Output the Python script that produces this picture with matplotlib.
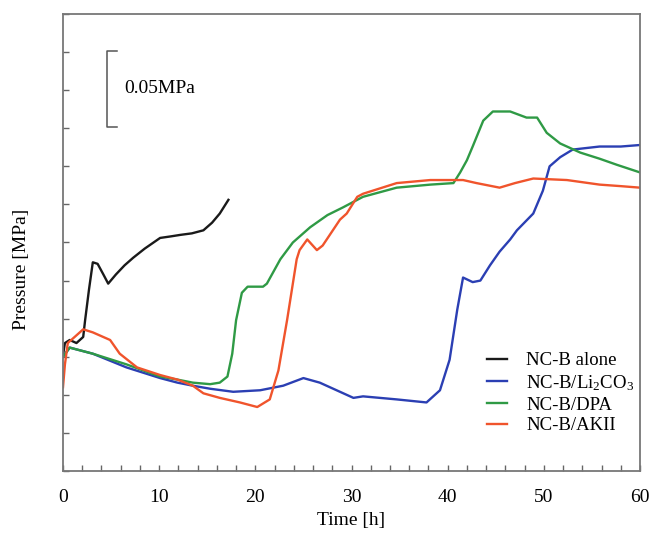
import matplotlib
matplotlib.use("Agg")
import matplotlib.pyplot as plt
from matplotlib.ticker import MultipleLocator, FixedLocator, NullFormatter

plt.rcParams['font.family'] = ['Liberation Serif', 'DejaVu Serif']
plt.rcParams['mathtext.fontset'] = 'custom'
plt.rcParams['mathtext.rm'] = 'Liberation Serif'
plt.rcParams['mathtext.it'] = 'Liberation Serif:italic'

# ---- data (time in h, pressure in MPa, arbitrary offset) ----
t_alone = [0, 0.2, 0.7, 1.4, 2.1, 2.3, 2.7, 3.1, 3.6, 4.2, 4.7, 5.5, 6.4, 7.3, 8.5,
           10.1, 11.2, 12.2, 13.4, 14.6, 15.5, 16.3, 17.2]
p_alone = [0.076, 0.084, 0.086, 0.084, 0.088, 0.099, 0.119, 0.137, 0.136, 0.129, 0.123,
           0.129, 0.135, 0.140, 0.146, 0.153, 0.154, 0.155, 0.156, 0.158, 0.163, 0.169, 0.178]

t_li = [0, 0.7, 3.1, 6.6, 10.1, 11.9, 13.5, 15.3, 17.7, 20.5, 22.9, 25, 26.7, 28.8, 30.2,
        31.2, 34.7, 37.8, 39.2, 40.2, 41, 41.6, 42.6, 43.4, 44.4, 45.4, 46.5, 47.2, 48.9,
        49.9, 50.6, 51.7, 53, 55.8, 58, 60]
p_li = [0.075, 0.081, 0.077, 0.068, 0.061, 0.058, 0.056, 0.054, 0.052, 0.053, 0.056, 0.061,
        0.058, 0.052, 0.048, 0.049, 0.047, 0.045, 0.053, 0.073, 0.106, 0.127, 0.124, 0.125,
        0.135, 0.144, 0.152, 0.158, 0.169, 0.184, 0.200, 0.206, 0.211, 0.213, 0.213, 0.214]

t_dpa = [0, 0.7, 3.1, 6.6, 10.1, 11.9, 13.5, 15.3, 16.3, 17.1, 17.6, 18.0, 18.6, 19.2, 20.8,
         21.2, 22.6, 23.9, 25.7, 27.5, 29.1, 31.2, 34.7, 38.2, 40.6, 41.3, 42, 42.6, 43.7,
         44.7, 46.5, 48.2, 49.3, 50.3, 51.7, 53.8, 55.8, 57.6, 60]
p_dpa = [0.075, 0.081, 0.077, 0.070, 0.062, 0.060, 0.058, 0.057, 0.058, 0.062, 0.077, 0.099,
         0.117, 0.121, 0.121, 0.123, 0.139, 0.150, 0.160, 0.168, 0.173, 0.180, 0.186, 0.188,
         0.189, 0.196, 0.204, 0.213, 0.230, 0.236, 0.236, 0.232, 0.232, 0.222, 0.215, 0.209,
         0.205, 0.201, 0.196]

t_akii = [0, 0.2, 0.5, 2.1, 3.1, 4.9, 5.9, 7.7, 10.1, 11.9, 13.5, 14.6, 16.3, 18.4, 20.2,
          21.5, 22.4, 23.3, 24.3, 24.6, 25.4, 26.4, 27, 28.8, 29.5, 30.6, 31.2, 34.7, 38.2,
          41.6, 43, 45.4, 47, 48.9, 52.4, 55.8, 58, 60]
p_akii = [0.055, 0.070, 0.084, 0.093, 0.091, 0.086, 0.077, 0.068, 0.063, 0.060, 0.056, 0.051,
          0.048, 0.045, 0.042, 0.047, 0.066, 0.099, 0.139, 0.145, 0.152, 0.145, 0.148, 0.165,
          0.169, 0.180, 0.182, 0.189, 0.191, 0.191, 0.189, 0.186, 0.189, 0.192, 0.191, 0.188,
          0.187, 0.186]

labels = ['NC-B alone', 'NC-B/Li$_2$CO$_3$', 'NC-B/DPA', 'NC-B/AKII']
colors = ['#1a1a1a', '#2b3fb3', '#2f9a45', '#f0542c']
x_ticks = [0, 10, 20, 30, 40, 50, 60]
scale_len = 0.05

fig = plt.figure(figsize=(6.51, 5.37), dpi=100)
ax = fig.add_axes([63/651, 1-471/537, 577/651, 457/537])

series = [(t_alone, p_alone), (t_li, p_li), (t_dpa, p_dpa), (t_akii, p_akii)]
for (tt, pp), lab, c in zip(series, labels, colors):
    ax.plot(tt, pp, color=c, lw=1.7, label=lab)

ax.set_xlim(0, 60)
ax.set_ylim(0, 0.3)
ax.xaxis.set_major_locator(FixedLocator(x_ticks))
ax.xaxis.set_minor_locator(MultipleLocator(2))
ax.yaxis.set_major_locator(MultipleLocator(0.025))
ax.yaxis.set_major_formatter(NullFormatter())
ax.tick_params(axis='both', which='both', direction='in', length=4, width=1, color='#666666')
ax.tick_params(axis='x', which='major', labelsize=14, pad=13)
for s in ax.spines.values():
    s.set_color('#777777')
    s.set_linewidth(1.3)

ax.set_xlabel('Time [h]', fontsize=14, labelpad=4)
ax.set_ylabel('Pressure [MPa]', fontsize=14)
ax.yaxis.set_label_coords(-0.058, 0.442)

# scale bar
y0, y1 = 0.226, 0.226 + scale_len
ax.plot([5.6, 4.6, 4.6, 5.6], [y1, y1, y0, y0], color='#555555', lw=1.1)
ax.text(6.4, (y0 + y1) / 2, '0.05MPa', fontsize=14, va='center', ha='left')

leg = ax.legend(loc='upper left', bbox_to_anchor=(0.705, 0.297), frameon=False,
                fontsize=13.5, handlelength=1.1, handletextpad=1.0, labelspacing=0.2)

fig.savefig('out.png', dpi=100)
